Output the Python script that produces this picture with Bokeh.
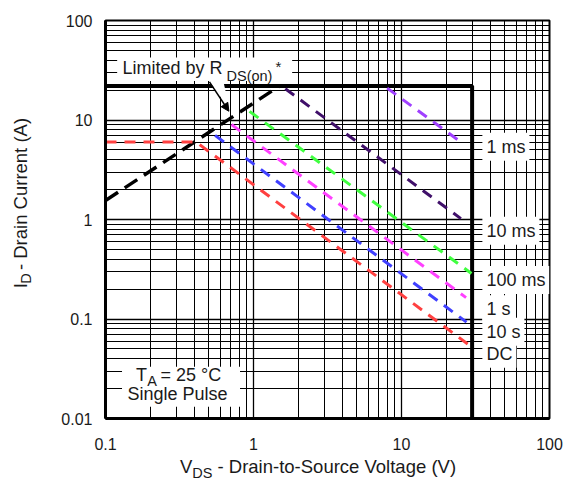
from bokeh.plotting import figure
from bokeh.layouts import row, column
from bokeh.models import (FixedTicker, Label, BoxAnnotation, PolyAnnotation, Arrow,
                          NormalHead, CustomJSTickFormatter, Range1d)
from bokeh.embed import file_html
from bokeh.resources import INLINE

# ---------------- data ----------------
vds_major = [0.1, 1, 10, 100]
id_major = [0.01, 0.1, 1, 10, 100]

vds_limit = [0.1, 30, 30]
id_limit = [22, 22, 0.01]

vds_rds = [0.1, 1.5]
id_rds = [1.55, 22]

curve_names = ["1 ms", "10 ms", "100 ms", "1 s", "10 s", "DC"]
vds_1ms = [8.0, 25.9]
id_1ms = [20.9, 5.82]
vds_10ms = [1.64, 25.2]
id_10ms = [20.6, 1.02]
vds_100ms = [0.94, 29.7]
id_100ms = [12.2, 0.287]
vds_1s = [0.71, 27.3]
id_1s = [9.0, 0.164]
vds_10s = [0.55, 27.5]
id_10s = [7.0, 0.093]
vds_dc = [0.1, 0.41, 29.0]
id_dc = [6.0, 6.0, 0.054]
curve_colors = ["#a040ff", "#40106a", "#40ff40", "#ff40ff", "#4040ff", "#ff4040"]

# ---------------- layout helpers (whole-page canvas px) ----------------
W, H = 564, 484
YT_W = 40          # strip for the y-axis title
XT_H = 30          # strip for the x-axis title
FL, FR, FT, FB = 105, 549, 20, 418   # frame edges
RL, RR, RT, RB = 105, 562, 20, 428   # frame edges in the reference picture


def fx(px):  # canvas px -> data x
    return 10 ** (-1 + 3 * (px - FL) / (FR - FL))


def fy(py):  # canvas px -> data y
    return 10 ** (2 - 4 * (py - FT) / (FB - FT))


def mx(px):  # reference px -> canvas px
    return FL + (px - RL) * (FR - FL) / (RR - RL)


def my(py):
    return FT + (py - RT) * (FB - FT) / (RB - RT)


FONT = "Liberation Sans"
TXT = "#1a1a1a"
MID = 0.36   # cap-centre above baseline, in em

p = figure(width=W - YT_W, height=H - XT_H, x_axis_type="log", y_axis_type="log",
           x_range=Range1d(0.1, 100), y_range=Range1d(0.01, 100),
           output_backend="svg", toolbar_location=None,
           min_border_left=FL - YT_W, min_border_right=W - FR,
           min_border_top=FT, min_border_bottom=H - XT_H - FB)
p.background_fill_color = "white"
p.border_fill_color = "white"
p.outline_line_color = "black"
p.outline_line_width = 2

x_minor = [m * 10 ** e for e in (-1, 0, 1) for m in range(2, 10)]
y_minor = [m * 10 ** e for e in (-2, -1, 0, 1) for m in range(2, 10)]
p.xaxis.ticker = FixedTicker(ticks=vds_major, minor_ticks=x_minor)
p.yaxis.ticker = FixedTicker(ticks=id_major, minor_ticks=y_minor)
fmt = "return tick.toString();"
p.xaxis.formatter = CustomJSTickFormatter(code=fmt)
p.yaxis.formatter = CustomJSTickFormatter(code=fmt)

for ax in (p.xaxis, p.yaxis):
    ax.axis_line_color = "black"
    ax.axis_line_width = 3
    ax.major_tick_line_color = None
    ax.minor_tick_line_color = None
    ax.major_label_text_font = FONT
    ax.major_label_text_font_size = "16px"
    ax.major_label_text_color = TXT
p.xaxis.major_label_standoff = 13
p.yaxis.major_label_standoff = 7

for g in (p.xgrid, p.ygrid):
    g.grid_line_color = "black"
    g.grid_line_width = 1.3
    g.minor_grid_line_color = "black"
    g.minor_grid_line_width = 1

# ---------------- glyphs ----------------
p.line(vds_limit, id_limit, line_color="black", line_width=4)
p.line(vds_rds, id_rds, line_color="black", line_width=3.5, line_dash="15 8")

curves_v = [vds_1ms, vds_10ms, vds_100ms, vds_1s, vds_10s, vds_dc]
curves_i = [id_1ms, id_10ms, id_100ms, id_1s, id_10s, id_dc]
for v, i, c in zip(curves_v, curves_i, curve_colors):
    p.line(v, i, line_color=c, line_width=3, line_dash="11 8")

# ---------------- annotations inside the frame ----------------
p.add_layout(BoxAnnotation(left=fx(mx(117)), right=fx(mx(117) + 175), top=fy(my(58)),
                           bottom=fy(my(82)), fill_color="white", fill_alpha=1,
                           line_color=None))
p.add_layout(PolyAnnotation(xs=[fx(mx(211)), fx(mx(226)), fx(mx(233))],
                            ys=[fy(my(81)), fy(my(81)), fy(my(112))],
                            fill_color="white", fill_alpha=1, line_color=None))
p.add_layout(Arrow(end=NormalHead(size=8, fill_color="black", line_color="black"),
                   x_start=fx(mx(212)), y_start=fy(my(83)),
                   x_end=fx(mx(232)), y_end=fy(my(113)),
                   line_color="black", line_width=1.5))
p.add_layout(BoxAnnotation(left=fx(mx(122)), right=fx(mx(122) + 118), top=fy(my(375)),
                           bottom=fy(my(375) + 40), fill_color="white", fill_alpha=1,
                           line_color=None))


def make_label(x, y, text, size=18, align="left", angle=0, bg=None, dxo=0, dyo=0):
    kw = dict(x=x, y=y, text=text, text_font=FONT, text_font_size=f"{size}px",
              text_align=align, text_baseline="middle", text_color=TXT,
              x_offset=dxo, y_offset=dyo)
    if angle:
        kw.update(angle=angle, angle_units="deg")
    if bg:
        kw.update(background_fill_color=bg, background_fill_alpha=1, padding=4)
    return Label(**kw)


def lab(cx, base_y, text, size=18, **kw):
    """cx in canvas px, base_y = canvas px of the text baseline."""
    p.add_layout(make_label(fx(cx), fy(base_y - MID * size), text, size=size, **kw))


# Limited by RDS(on)*
ax0, ay0 = mx(122.5), my(75)
lab(ax0, ay0, "Limited by R")
lab(ax0, ay0 + 7.5, "DS(on)", size=14.5, dxo=104)
lab(ax0, ay0 - 2.5, "*", size=15, dxo=153)

# TA = 25 °C / Single Pulse
tx0, ty0 = mx(136.3), my(390)
lab(tx0, ty0, "T")
lab(tx0, ty0 + 4.5, "A", size=14.5, dxo=11.3)
lab(tx0, ty0, "= 25 °C", dxo=24.5)
lab(mx(179.2), my(409.3), "Single Pulse", align="center")

# curve labels (vertically centred)
label_y = [149.5, 235.5, 286, 316, 339, 361.5]
for name, ly in zip(curve_names, label_y):
    p.add_layout(make_label(fx(mx(496) - 3), fy(my(ly)), name, bg="white"))


# ---------------- axis-title strips (text only) ----------------
def strip(w, h, x0, y0):
    f = figure(width=w, height=h, x_range=Range1d(x0, x0 + w), y_range=Range1d(y0 + h, y0),
               output_backend="svg", toolbar_location=None, min_border=0,
               x_axis_location=None, y_axis_location=None)
    f.outline_line_color = None
    f.grid.grid_line_color = None
    f.background_fill_color = "white"
    f.border_fill_color = "white"
    return f


# y axis title: ID - Drain Current (A), reading upwards (canvas px coordinates)
ytitle = strip(YT_W, H - XT_H, 0, 0)
yb0, ys0 = 26.7, 305.4
ytitle.add_layout(make_label(yb0 - MID * 18.5, ys0, "I", size=18.5, angle=90))
ytitle.add_layout(make_label(yb0 + 4.5 - MID * 14.5, ys0 - 5.1, "D", size=14.5, angle=90))
ytitle.add_layout(make_label(yb0 - MID * 18.5, ys0 - 20.7, "- Drain Current (A)",
                             size=18.5, angle=90))

# x axis title: VDS - Drain-to-Source Voltage (V)
xtitle = strip(W, XT_H, 0, H - XT_H)
xl0, xb0 = 179.5, 473
xtitle.add_layout(make_label(xl0, xb0 - MID * 18.5, "V", size=18.5))
xtitle.add_layout(make_label(xl0, xb0 + 4.5 - MID * 14.5, "DS", size=14.5, dxo=12.3))
xtitle.add_layout(make_label(xl0, xb0 - MID * 18.5, "- Drain-to-Source Voltage (V)",
                             size=18.5, dxo=37.5))

page = column(row(ytitle, p), xtitle)
open("out.html", "w").write(file_html(page, INLINE))
